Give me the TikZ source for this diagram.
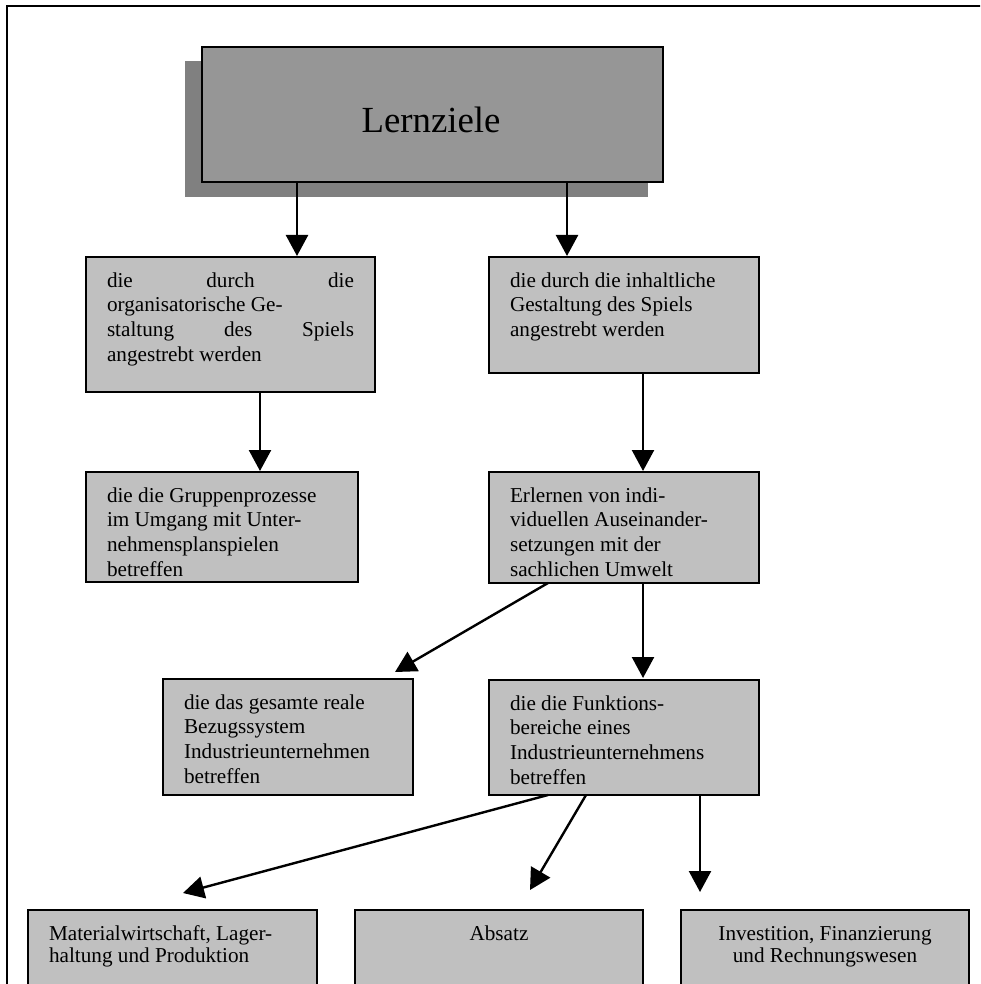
\documentclass[tikz,border=0pt]{standalone}
\usepackage{fontspec}
\setmainfont{Liberation Serif}
\usetikzlibrary{arrows.meta}

\definecolor{boxgray}{RGB}{192,192,192}
\definecolor{headgray}{RGB}{150,150,150}
\definecolor{shadowgray}{RGB}{128,128,128}

% text block of a box: width, height, content (first baseline 30pt below the top)
\newcommand{\boxtxt}[3]{\parbox[t][#2][t]{#1}{\fontsize{21.2pt}{24.8pt}\selectfont\rule{0pt}{30pt}#3}}

\tikzset{
  box/.style={draw=black, line width=1.8pt, fill=boxgray, inner xsep=21pt,
              inner ysep=0pt, outer sep=0pt, anchor=north west},
  arr/.style={line width=2.4pt, -{Triangle[length=21pt,width=22pt]}},
}

\begin{document}
\begin{tikzpicture}[x=1pt, y=-1pt]
  \useasboundingbox (0,0) rectangle (980,984);
  \clip (0,0) rectangle (980,984);

  % outer frame
  \draw[line width=2.2pt] (7,6) rectangle (1000,1010);

  % title box with its shadow
  \node[fill=shadowgray, inner sep=0pt, anchor=north west,
        minimum width=463pt, minimum height=136pt] (Lshadow) at (185,61) {};
  \node[draw=black, line width=1.8pt, fill=headgray, inner sep=0pt, anchor=north west,
        minimum width=461pt, minimum height=135pt] (L) at (201,46) {};
  \node[anchor=base, inner sep=0pt, font=\fontsize{36.8pt}{40pt}\selectfont] (Ltext) at (431,133) {Lernziele};

  % second level
  \node[box] (A) at (86,257) {\boxtxt{247pt}{135pt}{%
    die\hfill durch\hfill die\\
    organisatorische Ge-\\
    staltung\hfill des\hfill Spiels\\
    angestrebt werden}};
  \node[box] (B) at (489,257) {\boxtxt{228pt}{116pt}{%
    die durch die inhaltliche\\
    Gestaltung des Spiels\\
    angestrebt werden}};

  % third level
  \node[box] (C) at (86,472) {\boxtxt{230pt}{110pt}{%
    die die Gruppenprozesse\\
    im Umgang mit Unter-\\
    nehmensplanspielen\\
    betreffen}};
  \node[box] (D) at (489,472) {\boxtxt{228pt}{111pt}{%
    Erlernen von indi-\\
    viduellen Auseinander-\\
    setzungen mit der\\
    sachlichen Umwelt}};

  % fourth level
  \node[box] (E) at (163,679) {\boxtxt{208pt}{116pt}{%
    die das gesamte reale\\
    Bezugssystem\\
    Industrieunternehmen\\
    betreffen}};
  \node[box] (F) at (489,680) {\boxtxt{228pt}{115pt}{%
    die die Funktions-\\
    bereiche eines\\
    Industrieunternehmens\\
    betreffen}};

  % functional areas
  \node[box] (G) at (28,910) {\boxtxt{247pt}{120pt}{%
    \vspace*{-2pt}Materialwirtschaft, Lager-\\
    haltung und Produktion}};
  \node[box] (H) at (355,910) {\boxtxt{246pt}{120pt}{\centering
    \vspace*{-2pt}Absatz}};
  \node[box] (I) at (681,910) {\boxtxt{246pt}{120pt}{\centering
    \vspace*{-2pt}Investition, Finanzierung\\
    und Rechnungswesen}};

  % arrow tips and start points
  \coordinate (tA) at (297,256);
  \coordinate (tB) at (567,256);
  \coordinate (tC) at (260,471);
  \coordinate (tD) at (643,471);
  \coordinate (sDE) at (548,583);
  \coordinate (tE) at (395,672);
  \coordinate (tF) at (643,678);
  \coordinate (sFG) at (548,795);
  \coordinate (tG) at (183,893);
  \coordinate (sFH) at (586,795);
  \coordinate (tH) at (530,890);
  \coordinate (tI) at (700,892);

  % connectors
  \draw[arr] (L.south -| tA) -- (tA);
  \draw[arr] (L.south -| tB) -- (tB);
  \draw[arr] (A.south -| tC) -- (tC);
  \draw[arr] (B.south -| tD) -- (tD);
  \draw[arr] (sDE) -- (tE);
  \draw[arr] (D.south -| tF) -- (tF);
  \draw[arr] (sFG) -- (tG);
  \draw[arr] (sFH) -- (tH);
  \draw[arr] (F.south -| tI) -- (tI);
\end{tikzpicture}
\end{document}
